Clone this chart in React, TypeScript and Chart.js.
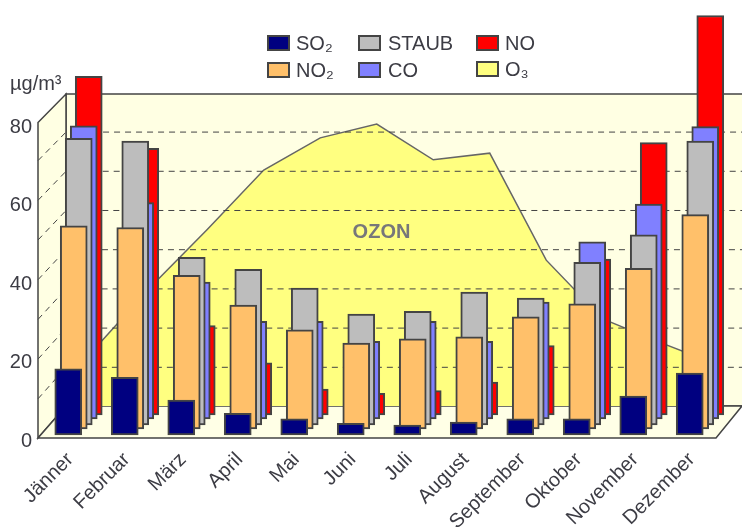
import { useEffect, useRef } from "react";
import { Chart, registerables } from "chart.js";

const months = ["Jänner", "Februar", "März", "April", "Mai", "Juni", "Juli", "August", "September", "Oktober", "November", "Dezember"];
const so2 = [16.9, 14.7, 8.9, 5.5, 4.1, 3.0, 2.5, 3.3, 4.1, 4.1, 9.9, 15.8];
const no2 = [51.8, 51.4, 39.2, 31.6, 25.3, 21.9, 23.0, 23.5, 28.6, 31.9, 41.0, 54.7];
const staub = [73.1, 72.4, 42.8, 39.7, 34.9, 28.3, 29.0, 33.9, 32.4, 41.5, 48.5, 72.4];
const co = [74.8, 55.2, 34.9, 24.9, 24.9, 19.8, 24.9, 19.8, 29.8, 45.2, 54.8, 74.6];
const no = [86.4, 68.0, 22.8, 13.3, 6.6, 5.5, 6.2, 8.4, 17.7, 39.8, 69.5, 101.9];
const o3 = [14.5, 30.4, 45.0, 60.2, 68.4, 71.9, 62.8, 64.5, 37.2, 22.2, 16.3, 10.7];
const gridValues = [10, 20, 30, 40, 50, 60, 70];

const colors = ["#000080", "#FFC06A", "#BDBDBD", "#8080FF", "#FF0000", "#FFFF80"];
const depthX = [2, 7.5, 12.5, 17.5, 22.5, 28];
const depthY = [-3, -9, -13, -19, -23, -32];
const legendCells = [
  { i: 0, x: 268, y: 36, tx: 296 },
  { i: 1, x: 268, y: 63, tx: 296 },
  { i: 2, x: 359, y: 36, tx: 388 },
  { i: 3, x: 359, y: 63, tx: 388 },
  { i: 4, x: 477, y: 36, tx: 505 },
  { i: 5, x: 477, y: 62, tx: 505 },
];

const INK = "#444444";
const FONT = "'Liberation Sans', Arial, sans-serif";

// Shifts each series backwards into the pseudo-3D room while the library draws it.
const depthPlugin = {
  id: "depthShift",
  beforeDatasetDraw(chart: any, args: any) {
    chart.ctx.save();
    chart.ctx.translate(depthX[args.index], depthY[args.index]);
  },
  afterDatasetDraw(chart: any, args: any) {
    chart.ctx.restore();
    if (args.index !== 5) return;
    const ctx = chart.ctx;
    const y = chart.scales.y;
    ctx.save();
    ctx.strokeStyle = "#444444";
    ctx.lineWidth = 1;
    ctx.setLineDash([6, 5]);
    for (const v of gridValues) {
      const back = y.getPixelForValue(v) - 32 + 0.5;
      ctx.beginPath();
      ctx.moveTo(38, back + 32 - v * 0.05);
      ctx.lineTo(66, back);
      ctx.lineTo(742, back);
      ctx.stroke();
    }
    ctx.setLineDash([]);
    ctx.fillStyle = "#77777a";
    ctx.font = `bold 20px ${FONT}`;
    ctx.textAlign = "center";
    ctx.textBaseline = "middle";
    ctx.fillText("OZON", 381.5, 232);
    ctx.restore();
  },
};

const roomPlugin = {
  id: "room",
  beforeDatasetsDraw(chart: any) {
    const ctx = chart.ctx;
    const poly = (pts: number[][], fill: string) => {
      ctx.beginPath();
      pts.forEach((p, k) => (k ? ctx.lineTo(p[0], p[1]) : ctx.moveTo(p[0], p[1])));
      ctx.closePath();
      ctx.fillStyle = fill;
      ctx.fill();
      ctx.stroke();
    };
    ctx.save();
    ctx.strokeStyle = INK;
    ctx.lineWidth = 1.5;
    poly([[66, 94], [760, 94], [760, 406], [66, 406]], "#FFFFE3");
    poly([[38, 122.5], [66, 94], [66, 406], [38, 438]], "#FFFFE3");
    poly([[38, 438], [66, 406], [742, 406], [716, 438]], "#FFFFE6");
    ctx.restore();
  },
  afterDraw(chart: any) {
    const ctx = chart.ctx;
    ctx.save();
    ctx.textBaseline = "middle";
    ctx.textAlign = "left";
    ctx.font = `20px ${FONT}`;
    for (const c of legendCells) {
      ctx.fillStyle = colors[c.i];
      ctx.strokeStyle = INK;
      ctx.lineWidth = 2;
      ctx.fillRect(c.x, c.y, 21, 14);
      ctx.strokeRect(c.x, c.y, 21, 14);
      ctx.fillStyle = "#3c3c44";
      ctx.fillText(chart.data.datasets[c.i].label, c.tx, c.y + 8);
    }
    ctx.fillText("µg/m³", 10, 84);
    ctx.restore();
  },
};

Chart.register(depthPlugin);
Chart.register(...registerables);

function bar(label: string, data: number[], i: number) {
  return {
    type: "bar" as const,
    label,
    data,
    backgroundColor: colors[i],
    borderColor: INK,
    borderWidth: 2,
    borderSkipped: false,
    barThickness: 27,
    grouped: false,
    clip: false,
  };
}

function noPadding(s: any) {
  s.paddingTop = 0;
  s.paddingBottom = 0;
  s.paddingLeft = 0;
  s.paddingRight = 0;
}

export default function App() {
  const ref = useRef<HTMLCanvasElement>(null);
  useEffect(() => {
    document.body.style.margin = "0";
    const chart = new Chart(ref.current!, {
      data: {
        labels: months,
        datasets: [
          bar("SO₂", so2, 0),
          bar("NO₂", no2, 1),
          bar("STAUB", staub, 2),
          bar("CO", co, 3),
          bar("NO", no, 4),
          {
            type: "line" as const,
            label: "O₃",
            data: o3,
            backgroundColor: colors[5],
            borderColor: "#666666",
            borderWidth: 1.5,
            fill: "origin",
            tension: 0,
            pointRadius: 0,
            clip: false,
          },
        ],
      } as any,
      options: {
        animation: false,
        responsive: false,
        layout: { padding: { left: 0, top: 0, right: 26, bottom: 0 } },
        plugins: { legend: { display: false }, tooltip: { enabled: false } },
        scales: {
          x: {
            grid: { display: false, tickLength: 0 },
            border: { display: false },
            afterFit: (s: any) => { s.height = 89; noPadding(s); },
            ticks: {
              autoSkip: false,
              minRotation: 45,
              maxRotation: 45,
              padding: 10,
              labelOffset: 4,
              color: "#3c3c44",
              font: { family: FONT, size: 20 },
            },
          },
          y: {
            min: 0,
            max: 111.73,
            grid: { display: false, tickLength: 0 },
            border: { display: false },
            afterFit: (s: any) => { s.width = 38; noPadding(s); },
            afterBuildTicks: (s: any) => { s.ticks = s.ticks.filter((t: any) => t.value <= 80); },
            ticks: {
              stepSize: 20,
              padding: 6,
              labelOffset: 3,
              color: "#3c3c44",
              font: { family: FONT, size: 20 },
            },
          },
        },
      },
      plugins: [roomPlugin],
    } as any);
    return () => chart.destroy();
  }, []);
  return (
    <div style={{ position: "absolute", left: 0, top: 0, width: 742, height: 527, background: "#fff", overflow: "hidden" }}>
      <canvas ref={ref} width={742} height={527} style={{ display: "block" }} />
    </div>
  );
}
